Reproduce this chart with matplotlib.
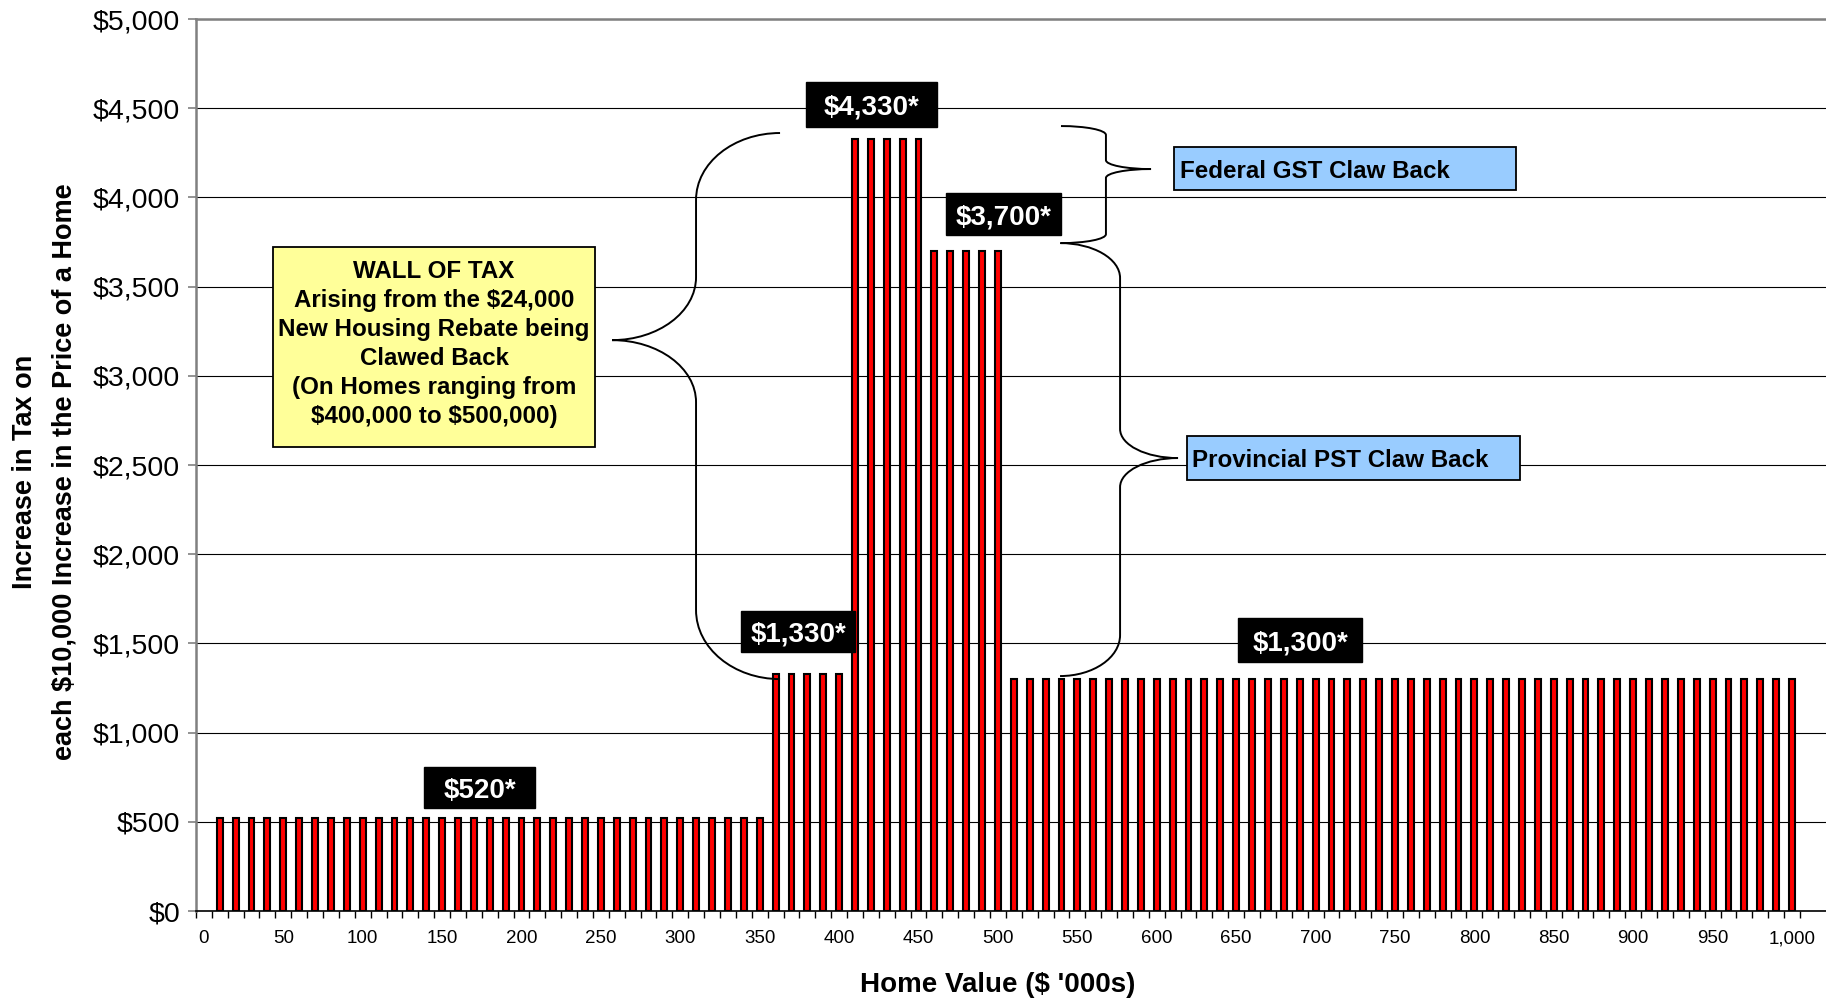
import matplotlib
matplotlib.use("Agg")
import matplotlib.pyplot as plt
from matplotlib.patches import Rectangle, PathPatch
from matplotlib.path import Path

plt.rcParams['font.family'] = ['Liberation Sans', 'DejaVu Sans']

# ---------------- data ----------------
home_values = [10, 20, 30, 40, 50, 60, 70, 80, 90, 100,
               110, 120, 130, 140, 150, 160, 170, 180, 190, 200,
               210, 220, 230, 240, 250, 260, 270, 280, 290, 300,
               310, 320, 330, 340, 350, 360, 370, 380, 390, 400,
               410, 420, 430, 440, 450, 460, 470, 480, 490, 500,
               510, 520, 530, 540, 550, 560, 570, 580, 590, 600,
               610, 620, 630, 640, 650, 660, 670, 680, 690, 700,
               710, 720, 730, 740, 750, 760, 770, 780, 790, 800,
               810, 820, 830, 840, 850, 860, 870, 880, 890, 900,
               910, 920, 930, 940, 950, 960, 970, 980, 990, 1000]
tax_increase = [520, 520, 520, 520, 520, 520, 520, 520, 520, 520,
                520, 520, 520, 520, 520, 520, 520, 520, 520, 520,
                520, 520, 520, 520, 520, 520, 520, 520, 520, 520,
                520, 520, 520, 520, 520, 1330, 1330, 1330, 1330, 1330,
                4330, 4330, 4330, 4330, 4330, 3700, 3700, 3700, 3700, 3700,
                1300, 1300, 1300, 1300, 1300, 1300, 1300, 1300, 1300, 1300,
                1300, 1300, 1300, 1300, 1300, 1300, 1300, 1300, 1300, 1300,
                1300, 1300, 1300, 1300, 1300, 1300, 1300, 1300, 1300, 1300,
                1300, 1300, 1300, 1300, 1300, 1300, 1300, 1300, 1300, 1300,
                1300, 1300, 1300, 1300, 1300, 1300, 1300, 1300, 1300, 1300]
x_tick_values = [0, 50, 100, 150, 200, 250, 300, 350, 400, 450, 500,
                 550, 600, 650, 700, 750, 800, 850, 900, 950, 1000]
x_tick_labels = ['0', '50', '100', '150', '200', '250', '300', '350', '400',
                 '450', '500', '550', '600', '650', '700', '750', '800',
                 '850', '900', '950', '1,000']
y_tick_values = [0, 500, 1000, 1500, 2000, 2500, 3000, 3500, 4000, 4500, 5000]
y_tick_labels = ['$0', '$500', '$1,000', '$1,500', '$2,000', '$2,500',
                 '$3,000', '$3,500', '$4,000', '$4,500', '$5,000']

value_labels = ['$4,330*', '$3,700*', '$1,330*', '$1,300*', '$520*']

# ---------------- figure ----------------
fig = plt.figure(figsize=(18.26, 10.01), dpi=100)
ax = fig.add_axes([0.1073, 0.0899, 0.8927, 0.8911])

ax.set_xlim(-5, 1021.4)
ax.set_ylim(0, 5000)

ax.bar(home_values, tax_increase, width=3.7, color='#FF0000',
       edgecolor='black', linewidth=1.5, zorder=3)

# grid
ax.set_yticks(y_tick_values)
ax.set_yticklabels(y_tick_labels, fontsize=20.5)
ax.yaxis.grid(True, color='black', linewidth=0.8, zorder=1)
ax.set_axisbelow(True)
ax.tick_params(axis='y', direction='out', length=6, width=1.2,
               color='#808080', pad=5.5)

ax.set_xticks(x_tick_values)
ax.set_xticklabels(x_tick_labels, fontsize=13.5)
ax.set_xticks([-5 + 10 * k for k in range(102)], minor=True)
ax.tick_params(axis='x', which='major', length=0, pad=14)
ax.tick_params(axis='x', which='minor', direction='out', length=5,
               width=1, color='black')

ax.spines['right'].set_visible(False)
ax.spines['left'].set_color('#808080')
ax.spines['left'].set_linewidth(1.8)
ax.spines['top'].set_color('#808080')
ax.spines['top'].set_linewidth(1.8)
ax.spines['bottom'].set_color('black')
ax.spines['bottom'].set_linewidth(1.2)
ax.spines['bottom'].set_zorder(4)

ax.set_xlabel("Home Value ($ '000s)", fontsize=20, fontweight='bold',
              va='center')
ax.xaxis.set_label_coords(0.492, -0.083)
ax.set_ylabel("Increase in Tax on\neach $10,000 Increase in the Price of a Home",
              fontsize=19.5, fontweight='bold', va='center', ha='center',
              linespacing=1.65)
ax.yaxis.set_label_coords(-0.0926, 0.492)

# ---------------- black value boxes ----------------
value_boxes = [  # x0, x1, y0, y1 (data units)
    (379.1, 461.6, 4395, 4647),
    (467.3, 539.7, 3789, 4025),
    (338.2, 410.0, 1452, 1682),
    (651.2, 729.3, 1396, 1642),
    (138.6, 208.5, 577, 807),
]
for lab, (x0, x1, y0, y1) in zip(value_labels, value_boxes):
    ax.add_patch(Rectangle((x0, y0), x1 - x0, y1 - y0, facecolor='black',
                           edgecolor='black', zorder=6, clip_on=False))
    ax.text((x0 + x1) / 2, (y0 + y1) / 2, lab, color='white', fontsize=20,
            fontweight='bold', ha='center', va='center_baseline', zorder=7)

# ---------------- yellow wall-of-tax box ----------------
ax.add_patch(Rectangle((43.5, 2601), 246.3 - 43.5, 3722 - 2601,
                       facecolor='#FFFF99', edgecolor='black', linewidth=1.3,
                       zorder=6))
ax.text(144.9, 3178, "WALL OF TAX\nArising from the \\$24,000\nNew Housing Rebate being\n"
        "Clawed Back\n(On Homes ranging from\n\\$400,000 to \\$500,000)",
        fontsize=17.4, fontweight='bold', ha='center', va='center',
        linespacing=1.34, zorder=7)

# ---------------- blue boxes ----------------
blue_boxes = [
    ("Federal GST Claw Back", 610.9, 826.2, 4041, 4283, 614.6),
    ("Provincial PST Claw Back", 619.1, 828.7, 2416, 2663, 622.2),
]
for lab, x0, x1, y0, y1, tx in blue_boxes:
    ax.add_patch(Rectangle((x0, y0), x1 - x0, y1 - y0, facecolor='#99CCFF',
                           edgecolor='black', linewidth=1.3, zorder=6))
    ax.text(tx, (y0 + y1) / 2, lab, fontsize=17.4, fontweight='bold',
            ha='left', va='center_baseline', zorder=7)


# ---------------- braces ----------------
def brace(x_end, x_spine, x_tip, y_top, y_tip, y_bot, d_top, d_t1, d_t2, d_bot):
    k = 0.5523
    verts = [
        (x_end, y_top),
        (x_end + k * (x_spine - x_end), y_top),
        (x_spine, y_top - (1 - k) * d_top),
        (x_spine, y_top - d_top),
        (x_spine, y_tip + d_t1),
        (x_spine, y_tip + (1 - k) * d_t1),
        (x_tip - k * (x_tip - x_spine), y_tip),
        (x_tip, y_tip),
        (x_tip - k * (x_tip - x_spine), y_tip),
        (x_spine, y_tip - (1 - k) * d_t2),
        (x_spine, y_tip - d_t2),
        (x_spine, y_bot + d_bot),
        (x_spine, y_bot + (1 - k) * d_bot),
        (x_end + k * (x_spine - x_end), y_bot),
        (x_end, y_bot),
    ]
    codes = [Path.MOVETO, Path.CURVE4, Path.CURVE4, Path.CURVE4,
             Path.LINETO, Path.CURVE4, Path.CURVE4, Path.CURVE4,
             Path.CURVE4, Path.CURVE4, Path.CURVE4,
             Path.LINETO, Path.CURVE4, Path.CURVE4, Path.CURVE4]
    ax.add_patch(PathPatch(Path(verts, codes), facecolor='none',
                           edgecolor='black', linewidth=1.4, zorder=5))


brace(362.8, 309.9, 257.0, 4361, 3200, 1300, 375, 353, 348, 387)
brace(539.7, 568.0, 596.4, 4400, 4159, 3744, 50, 50, 50, 50)
brace(539.1, 576.9, 613.4, 3744, 2539, 1317, 196, 163, 163, 230)

fig.savefig("out.png", dpi=100)
